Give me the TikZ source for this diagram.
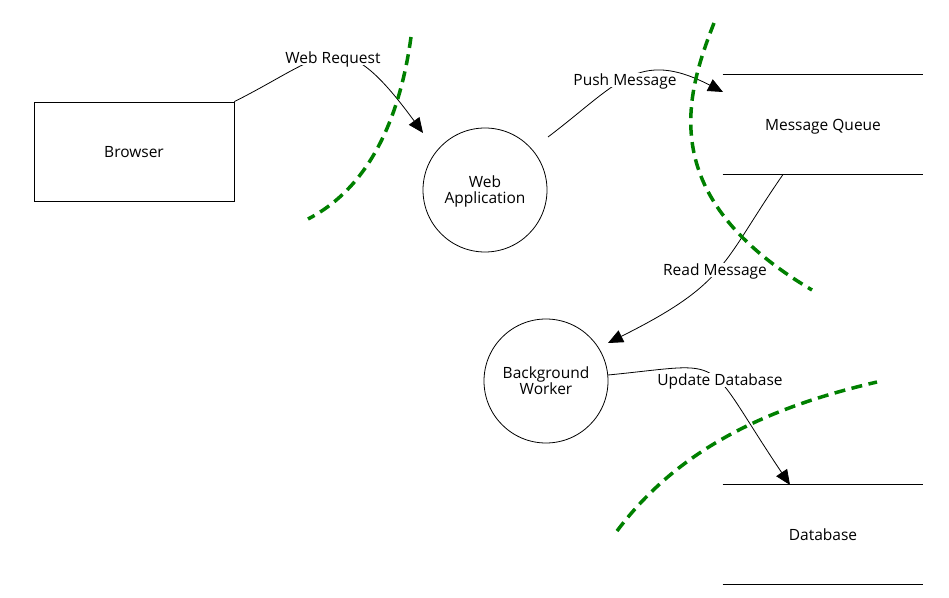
\documentclass[tikz,border=0pt]{standalone}
\usepackage{fontspec}
\setmainfont{Open Sans}
\usetikzlibrary{positioning, shapes, arrows.meta}

\begin{document}
\begin{tikzpicture}[x=1pt, y=1pt, line width=0.8pt, font=\fontsize{15.5}{16}\selectfont,
  every node/.style={text depth=0pt},
  proc/.style={circle, draw, minimum size=124pt, inner sep=0pt, align=center},
  ext/.style={rectangle, draw, minimum width=200pt, minimum height=99pt},
  store/.style={rectangle, minimum width=200pt, minimum height=99pt},
  flow/.style={-{Triangle[length=15pt,width=13pt]}},
  lbl/.style={fill=white, inner sep=1pt},
  bound/.style={green!50!black, line width=3.5pt, dash pattern=on 11pt off 6.5pt}]
  \useasboundingbox (0,0) rectangle (949,597);
  \node[ext] (browser) at (134,445.5) {Browser};
  \node[proc] (webapp) at (485,407) {Web\\Application};
  \node[proc] (worker) at (546,216) {Background\\Worker};
  \node[store] (queue) at (823,472.5) {Message Queue};
  \node[store] (db) at (823,62.5) {Database};
  \draw (queue.north west) -- (queue.north east) (queue.south west) -- (queue.south east);
  \draw (db.north west) -- (db.north east) (db.south west) -- (db.south east);

  % free ends of the flows
  \coordinate (wa-in) at (423,464);
  \coordinate (wa-out) at (548,460);
  \coordinate (q-in) at (723,505);
  \coordinate (q-out) at (783,422.5);
  \coordinate (w-in) at (608,254);
  \coordinate (w-out) at (608,222);
  \coordinate (db-in) at (790,112);

  \draw[flow] (browser.north east) .. controls (329,543) and (340,577) .. (wa-in);
  \draw[flow] (wa-out) .. controls (618,513) and (638,549) .. (q-in);
  \draw[flow] (q-out) .. controls (721,333) and (728,314) .. (w-in);
  \draw[flow] (w-out) .. controls (732,234) and (700,246) .. (db-in);
  \node[lbl] (wr) at (333,539) {Web Request};
  \node[lbl] (pm) at (625,517) {Push Message};
  \node[lbl] (rm) at (715,327) {Read Message};
  \node[lbl] (ud) at (720,217) {Update Database};

  % trust boundaries
  \draw[bound] (411,560) .. controls (400,480) and (370,410) .. (308,378);
  \draw[bound] (714,574) .. controls (685,500) and (655,400) .. (812,307);
  \draw[bound] (617,66) .. controls (680,150) and (770,190) .. (877,215);
\end{tikzpicture}
\end{document}
